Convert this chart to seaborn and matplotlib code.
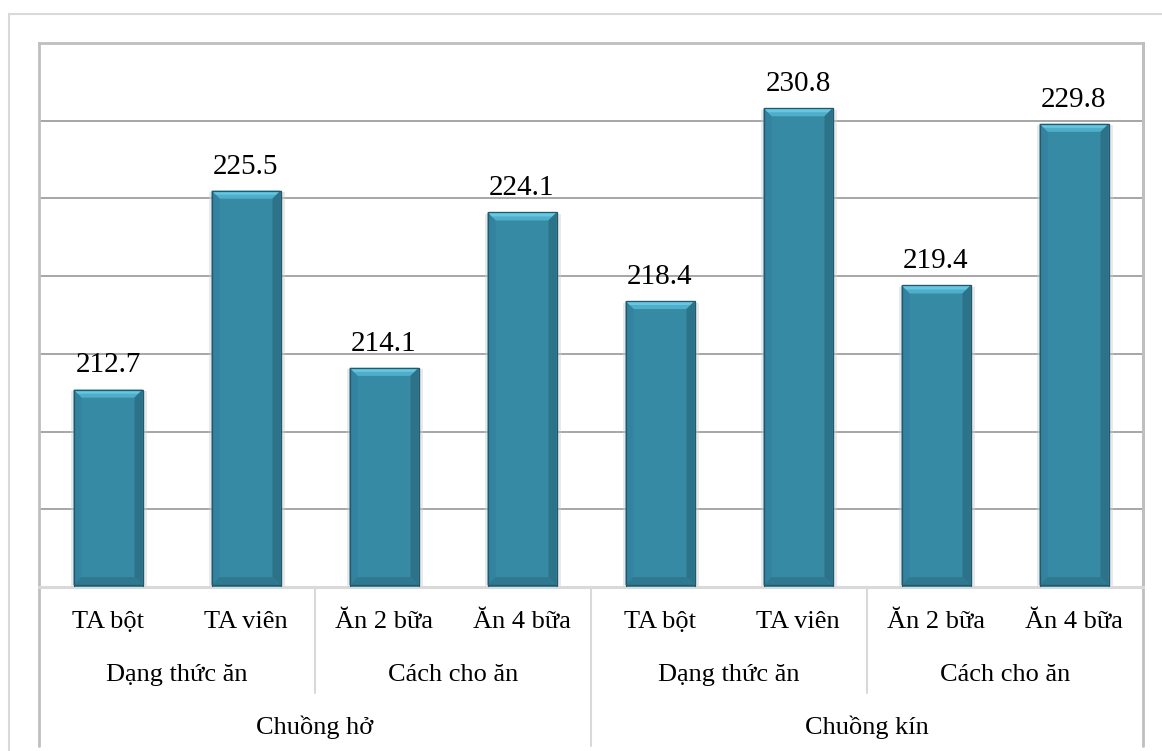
import numpy as np
import pandas as pd
import matplotlib
matplotlib.use("Agg")
import matplotlib.pyplot as plt
from matplotlib.patches import Polygon
from matplotlib.lines import Line2D
import seaborn as sns

# Data
housing = ["Chuồng hở", "Chuồng kín"]
factors = ["Dạng thức ăn", "Cách cho ăn"]
treatments = ["TA bột", "TA viên", "Ăn 2 bữa", "Ăn 4 bữa"]
values = [212.7, 225.5, 214.1, 224.1, 218.4, 230.8, 219.4, 229.8]

df = pd.DataFrame({
    "pos": list(range(len(values))),
    "value": values,
    "treatment": treatments * 2,
})

sns.set_theme(style="white")
plt.rcParams["font.family"] = ["Liberation Serif", "DejaVu Serif"]

W, H, DPI = 1162, 751, 100
fig = plt.figure(figsize=(W / DPI, H / DPI), dpi=DPI)
fig.patch.set_facecolor("white")

# axes placed in pixel terms
L, R, T, B = 39, 1143, 43, 587
ax = fig.add_axes([L / W, 1 - B / H, (R - L) / W, (B - T) / H])

BAR = "#378AA3"
sns.barplot(data=df, x="pos", y="value", order=list(range(8)), color=BAR,
            width=0.5, saturation=1, ax=ax, errorbar=None,
            edgecolor="#25596B", linewidth=0.8, zorder=3)

ax.set_ylim(200, 235)
ax.set_xlim(-0.5, 7.5)
ax.set_yticks(np.arange(205, 235, 5))
ax.yaxis.grid(True, color="#A6A6A6", linewidth=1.4, zorder=0)
ax.xaxis.grid(False)
ax.set_yticklabels([])
ax.tick_params(left=False, bottom=False)
ax.set_xticks([])
ax.set_xlabel("")
ax.set_ylabel("")
for s in ["top", "right"]:
    ax.spines[s].set_color("#BFBFBF")
    ax.spines[s].set_linewidth(2)
ax.spines["left"].set_visible(False)
ax.spines["bottom"].set_color("#D9D9D9")
ax.spines["bottom"].set_linewidth(2.2)

# value labels
ax.bar_label(ax.containers[0], labels=[f"{v:.1f}" for v in values],
             padding=8, fontsize=21, color="black", zorder=5)

# bevel shading on each bar
fig.canvas.draw()
px_x = ax.transData.transform((1, 0))[0] - ax.transData.transform((0, 0))[0]
px_y = ax.transData.transform((0, 1))[1] - ax.transData.transform((0, 0))[1]
bev = 8
dx, dy = bev / px_x, bev / px_y
y0 = ax.get_ylim()[0]
for p in ax.patches:
    x0 = p.get_x()
    x1 = x0 + p.get_width()
    top = p.get_height()
    yb = y0 + 0.12
    # soft shadow
    ax.add_patch(Polygon([(x0 - 0.3 * dx, yb - 0.3 * dy), (x1 + 0.5 * dx, yb - 0.3 * dy),
                          (x1 + 0.5 * dx, top - 0.2 * dy), (x0 - 0.3 * dx, top - 0.2 * dy)],
                         closed=True, color="#CFCFCF", alpha=0.45, lw=0, zorder=2))
    # top bevel: two bands for a light gradient
    ax.add_patch(Polygon([(x0, top), (x1, top), (x1 - dx, top - dy), (x0 + dx, top - dy)],
                         closed=True, color="#4FAFCB", lw=0, zorder=4))
    ax.add_patch(Polygon([(x0, top), (x1, top), (x1 - 0.5 * dx, top - 0.5 * dy),
                          (x0 + 0.5 * dx, top - 0.5 * dy)],
                         closed=True, color="#65C7E2", lw=0, zorder=4))
    ax.add_patch(Polygon([(x0, top), (x0 + dx, top - dy), (x0 + dx, yb + dy), (x0, yb)],
                         closed=True, color="#3282A0", lw=0, zorder=4))
    ax.add_patch(Polygon([(x1, top), (x1 - dx, top - dy), (x1 - dx, yb + dy), (x1, yb)],
                         closed=True, color="#2C7389", lw=0, zorder=4))
    ax.add_patch(Polygon([(x0, yb), (x1, yb), (x1 - dx, yb + dy), (x0 + dx, yb + dy)],
                         closed=True, color="#2F7990", lw=0, zorder=4))
    ax.add_patch(Polygon([(x0, yb), (x1, yb), (x1, top), (x0, top)], closed=True,
                         fill=False, edgecolor="#24596C", lw=0.9, zorder=4.5))

# multi-level category labels
xt = ax.get_xaxis_transform()
ph = B - T
def ay(py):
    return (B - py) / ph

for i, lab in enumerate(treatments * 2):
    ax.text(i, ay(622), lab, transform=xt, ha="center", va="center",
            fontsize=19, color="black", clip_on=False)
for j, lab in enumerate(factors * 2):
    ax.text(2 * j + 0.5, ay(675), lab, transform=xt, ha="center", va="center",
            fontsize=19, color="black", clip_on=False)
for k, lab in enumerate(housing):
    ax.text(4 * k + 1.5, ay(727), lab, transform=xt, ha="center", va="center",
            fontsize=19, color="black", clip_on=False)

# separators between label groups
for xb in [-0.5, 3.5, 7.5]:
    ax.add_line(Line2D([xb, xb], [1 if xb != 3.5 else 0, ay(746)], transform=xt,
                       color="#BFBFBF" if xb != 3.5 else "#D9D9D9",
                       lw=2 if xb != 3.5 else 1.5, clip_on=False, zorder=1))
for xb in [1.5, 5.5]:
    ax.add_line(Line2D([xb, xb], [0, ay(693)], transform=xt, color="#D9D9D9",
                       lw=1.5, clip_on=False, zorder=1))

# outer frame
fig.add_artist(Line2D([9 / W, 9 / W], [0, 1 - 14 / H], color="#D9D9D9", lw=1.5))
fig.add_artist(Line2D([9 / W, 1], [1 - 14 / H, 1 - 14 / H], color="#D9D9D9", lw=1.5))

fig.savefig("out.png", dpi=DPI, facecolor="white")
